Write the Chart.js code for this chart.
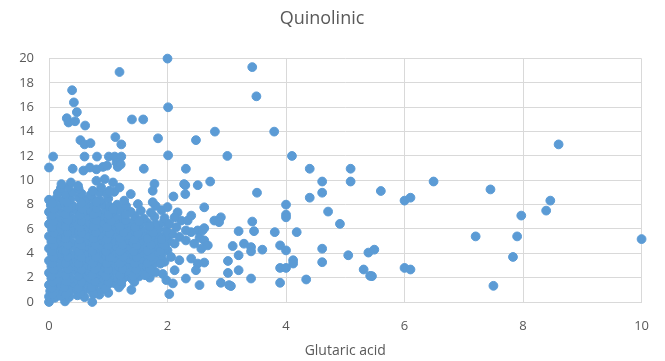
<!DOCTYPE html>
<html>
<head>
<meta charset="utf-8">
<script src="https://cdn.jsdelivr.net/npm/chart.js@4/dist/chart.umd.min.js"></script>
<style>
  html, body { margin: 0; padding: 0; background: #fff; }
  #wrap { position: relative; width: 665px; height: 361px; }
</style>
</head>
<body>
<div id="wrap"><canvas id="chart"></canvas></div>
<script>
const chartTitle = 'Quinolinic';
const xTitle = 'Glutaric acid';
const xTicks = [0, 2, 4, 6, 8, 10];
const yTicks = [0, 2, 4, 6, 8, 10, 12, 14, 16, 18, 20];

// dense group near the origin, [glutaric, quinolinic]
const clusterPoints = [
  [0.0,0.0],[0.27,0.05],[0.73,0.0],
  [0.0,0.45],[0.1,0.35],[0.2,0.5],[0.34,0.4],[0.48,0.55],[0.6,0.4],[0.85,0.6],[1.0,0.75],
  [0.02,0.9],[0.13,1.0],[0.24,0.85],[0.36,0.95],[0.47,1.05],[0.58,0.9],[0.7,1.0],[0.8,0.85],[0.92,1.1],[1.39,1.0],
  [0.0,1.4],[0.1,1.5],[0.2,1.35],[0.31,1.45],[0.42,1.55],[0.53,1.4],[0.64,1.5],[0.76,1.35],[0.88,1.5],[0.99,1.4],[1.1,1.55],[1.22,1.45],
  [0.04,1.95],[0.15,1.85],[0.26,2.0],[0.37,1.9],[0.48,1.8],[0.59,2.0],[0.7,1.9],[0.82,2.05],[0.93,1.85],[1.05,2.0],[1.16,1.9],[1.28,2.05],[1.4,1.9],[1.52,2.1],[1.7,2.0],
  [0.0,2.4],[0.1,2.5],[0.22,2.35],[0.33,2.45],[0.44,2.55],[0.56,2.4],[0.67,2.5],[0.78,2.35],[0.9,2.5],[1.0,2.4],[1.12,2.55],[1.24,2.4],[1.35,2.5],[1.47,2.35],[1.58,2.5],[1.8,2.45],[1.92,2.3],
  [0.04,2.95],[0.15,2.85],[0.27,3.0],[0.38,2.9],[0.5,2.8],[0.61,3.0],[0.72,2.9],[0.84,3.05],[0.95,2.85],[1.06,3.0],[1.18,2.9],[1.3,3.05],[1.42,2.85],[1.53,3.0],[1.65,2.9],[1.76,3.1],
  [0.0,3.4],[0.11,3.5],[0.22,3.35],[0.34,3.45],[0.45,3.55],[0.56,3.4],[0.68,3.5],[0.79,3.35],[0.9,3.5],[1.02,3.4],[1.13,3.55],[1.25,3.4],[1.36,3.5],[1.48,3.35],[1.6,3.5],[1.72,3.4],[1.84,3.55],[1.95,3.3],
  [0.05,3.95],[0.16,3.85],[0.28,4.0],[0.4,3.9],[0.5,3.8],[0.62,4.0],[0.74,3.9],[0.85,4.05],[0.96,3.85],[1.08,4.0],[1.2,3.9],[1.31,4.05],[1.42,3.85],[1.54,4.0],[1.66,3.9],[1.78,4.05],[1.9,3.85],[2.0,4.25],
  [0.0,4.4],[0.1,4.5],[0.22,4.35],[0.33,4.45],[0.45,4.55],[0.56,4.4],[0.67,4.5],[0.8,4.35],[0.9,4.5],[1.02,4.4],[1.14,4.55],[1.25,4.4],[1.37,4.5],[1.5,4.35],[1.6,4.5],[1.72,4.4],[1.84,4.55],[1.96,4.45],
  [0.04,4.95],[0.16,4.85],[0.27,5.0],[0.38,4.9],[0.5,4.8],[0.62,5.0],[0.73,4.9],[0.84,5.05],[0.96,4.85],[1.08,5.0],[1.2,4.9],[1.3,5.05],[1.42,4.85],[1.55,5.0],[1.66,4.9],[1.78,5.05],[1.9,4.85],[2.02,5.0],[2.12,4.8],
  [0.0,5.4],[0.11,5.5],[0.22,5.35],[0.34,5.45],[0.45,5.55],[0.57,5.4],[0.68,5.5],[0.8,5.35],[0.9,5.5],[1.02,5.4],[1.14,5.55],[1.26,5.4],[1.37,5.5],[1.48,5.35],[1.6,5.5],[1.72,5.4],[1.84,5.55],[1.96,5.4],[2.08,5.6],[2.2,5.35],
  [0.05,5.95],[0.16,5.85],[0.28,6.0],[0.4,5.9],[0.5,5.8],[0.62,6.0],[0.74,5.9],[0.86,6.05],[0.97,5.85],[1.08,6.0],[1.2,5.9],[1.32,6.05],[1.44,5.85],[1.56,6.0],[1.7,5.9],[1.85,6.05],[1.98,5.85],
  [0.0,6.4],[0.11,6.5],[0.22,6.35],[0.34,6.45],[0.45,6.55],[0.57,6.4],[0.68,6.5],[0.8,6.35],[0.92,6.5],[1.03,6.4],[1.15,6.55],[1.27,6.4],[1.4,6.5],[1.52,6.35],[1.66,6.5],[1.8,6.4],[1.93,6.55],
  [0.04,6.95],[0.16,6.85],[0.28,7.0],[0.4,6.9],[0.52,6.8],[0.63,7.0],[0.75,6.9],[0.88,7.05],[1.0,6.85],[1.12,7.0],[1.25,6.9],[1.45,7.05],[1.6,6.85],[1.78,7.0],[1.95,6.9],
  [0.0,7.4],[0.1,7.5],[0.22,7.35],[0.34,7.45],[0.46,7.55],[0.58,7.4],[0.7,7.5],[0.82,7.35],[0.95,7.5],[1.07,7.4],[1.2,7.55],[1.38,7.4],[1.55,7.5],[1.72,7.35],[1.9,7.55],
  [0.03,7.95],[0.15,7.85],[0.27,8.0],[0.4,7.9],[0.52,7.8],[0.64,8.0],[0.76,7.9],[0.9,8.05],[1.02,7.85],[1.15,8.0],[1.3,7.9],[1.5,8.05],[1.8,7.9],[2.0,7.8],
  [0.0,8.4],[0.12,8.5],[0.24,8.35],[0.36,8.45],[0.5,8.55],[0.62,8.4],[0.74,8.5],[0.86,8.35],[1.0,8.5],[1.27,8.33],[1.75,8.2],
  [0.15,8.95],[0.28,8.85],[0.4,9.0],[0.55,8.9],[0.7,8.8],[0.85,9.0],[0.97,8.9],[1.1,9.05],[1.38,8.87],
  [0.2,9.35],[0.33,9.45],[0.5,9.3],[0.74,9.14],[0.88,9.41],[1.02,9.14],[1.19,9.41],
  [0.21,9.69],[0.37,9.82],[0.49,9.55],[0.8,9.96],[0.94,10.1],[1.08,9.82]
];

// more points inside the same group, sitting between the rows above
const clusterFill = [
  [0.06,0.65],[0.29,0.65],[0.53,0.7],[0.75,0.65],
  [0.05,1.15],[0.26,1.2],[0.5,1.15],[0.72,1.2],[0.95,1.15],[1.18,1.2],
  [0.07,1.65],[0.3,1.7],[0.55,1.65],[0.78,1.7],[1.0,1.65],[1.22,1.7],[1.44,1.65],
  [0.05,2.15],[0.28,2.2],[0.5,2.15],[0.73,2.2],[0.96,2.15],[1.2,2.2],[1.42,2.15],[1.62,2.2],
  [0.08,2.65],[0.32,2.7],[0.55,2.65],[0.78,2.7],[1.0,2.65],[1.24,2.7],[1.47,2.65],[1.7,2.7],
  [0.06,3.15],[0.28,3.2],[0.5,3.15],[0.74,3.2],[0.97,3.15],[1.2,3.2],[1.44,3.15],[1.66,3.2],[1.88,3.15],
  [0.08,3.65],[0.31,3.7],[0.55,3.65],[0.79,3.7],[1.02,3.65],[1.25,3.7],[1.48,3.65],[1.72,3.7],
  [0.06,4.15],[0.28,4.2],[0.5,4.15],[0.73,4.2],[0.96,4.15],[1.2,4.2],[1.43,4.15],[1.66,4.2],[1.88,4.15],
  [0.08,4.65],[0.32,4.7],[0.55,4.65],[0.78,4.7],[1.0,4.65],[1.24,4.7],[1.48,4.65],[1.72,4.7],[1.95,4.65],
  [0.06,5.15],[0.28,5.2],[0.52,5.15],[0.75,5.2],[0.98,5.15],[1.2,5.2],[1.44,5.15],[1.66,5.2],[1.9,5.15],
  [0.08,5.65],[0.31,5.7],[0.55,5.65],[0.79,5.7],[1.02,5.65],[1.26,5.7],[1.5,5.65],[1.76,5.7],
  [0.06,6.15],[0.28,6.2],[0.52,6.15],[0.75,6.2],[0.98,6.15],[1.2,6.2],[1.45,6.15],[1.7,6.2],
  [0.08,6.65],[0.32,6.7],[0.55,6.65],[0.8,6.7],[1.05,6.65],[1.3,6.7],[1.52,6.65],
  [0.06,7.15],[0.28,7.2],[0.52,7.15],[0.76,7.2],[1.0,7.15],[1.3,7.2],
  [0.08,7.65],[0.32,7.7],[0.56,7.65],[0.8,7.7],[1.08,7.65],
  [0.06,8.15],[0.3,8.2],[0.55,8.15],[0.8,8.2]
];

// the scattered points further out
const spreadPoints = [
  [2.0,20.0],[1.19,18.9],[0.39,17.4],[0.42,16.4],[0.47,15.6],[0.3,15.1],[0.33,14.75],[0.44,14.85],[0.61,14.5],
  [1.4,15.0],[1.59,15.0],[2.01,16.0],[1.12,13.55],[1.22,12.95],[1.84,13.45],[0.53,13.3],[0.6,12.95],[0.7,13.05],
  [3.43,19.3],[3.5,16.9],[2.48,13.3],[2.8,14.0],[3.8,14.0],[2.01,12.05],[3.01,12.0],[4.1,12.0],
  [0.0,11.05],[0.07,11.95],[0.4,10.95],[0.6,11.95],[0.81,11.95],[1.01,11.95],[1.11,11.95],[1.22,11.95],
  [1.6,10.95],[2.31,10.95],[0.58,10.8],[0.69,11.05],[0.8,10.9],[0.91,11.1],[0.98,11.2],[1.16,11.1],[1.14,11.45],[1.21,11.3],
  [4.4,10.95],[5.09,10.95],[4.61,9.9],[5.09,9.9],[2.72,9.9],[3.51,8.98],[4.4,8.57],[4.61,8.98],[5.6,9.12],
  [6.0,8.33],[6.1,8.57],[4.0,8.0],[4.0,7.18],[4.0,6.96],[4.71,7.43],[4.91,6.42],[2.62,7.78],[2.79,6.69],[2.9,6.96],[2.87,6.56],
  [3.43,6.61],[3.46,5.82],[3.2,5.82],[3.81,5.74],[4.18,5.74],[2.62,6.07],[3.1,4.6],[3.29,4.79],[3.41,4.51],[3.41,4.16],
  [3.2,3.84],[3.6,4.3],[3.9,4.65],[4.0,4.24],[4.61,4.38],[5.05,3.84],[5.39,4.06],[5.49,4.3],[3.02,3.37],[2.62,3.24],
  [3.9,2.8],[4.0,2.8],[4.12,3.43],[4.12,3.16],[4.61,3.27],[3.2,2.61],[3.02,2.39],[5.31,2.67],[5.42,2.15],[5.45,2.12],
  [6.0,2.8],[6.1,2.67],[3.41,1.93],[2.9,1.58],[3.04,1.39],[3.07,1.31],[3.9,1.58],[4.34,1.85],[2.54,1.39],
  [8.6,12.95],[6.49,9.9],[7.45,9.25],[8.46,8.33],[8.39,7.51],[7.97,7.1],[7.2,5.39],[7.9,5.39],[10.0,5.17],[7.83,3.7],[7.5,1.33],
  [1.78,9.7],[2.3,9.6],[2.51,9.6],[2.3,8.87],[2.1,8.67],[2.51,5.88],[1.75,9.14],[2.28,9.69],
  [2.31,5.06],[2.4,5.74],[2.54,5.28],[2.59,5.88],[2.62,5.06],[2.68,4.65],[2.57,4.38],[2.45,4.79],[2.31,5.88],
  [2.17,7.37],[2.23,6.69],[2.12,6.96],[2.03,6.42],[2.15,6.15],[2.34,6.69],[2.4,7.1],
  [2.4,3.57],[2.51,3.16],[2.48,2.61],[2.31,1.93],[2.06,3.7],[2.2,3.43],[2.12,2.61],[1.98,1.8],[2.09,1.53],[2.03,0.65]
];

const textColor = '#595959';
const gridColor = '#d9d9d9';
const markColor = '#5b9bd5';

new Chart(document.getElementById('chart'), {
  type: 'scatter',
  data: {
    datasets: [{
      data: clusterPoints.concat(clusterFill, spreadPoints).map(([x, y]) => ({ x, y })),
      backgroundColor: markColor,
      borderColor: markColor,
      pointBackgroundColor: markColor,
      pointBorderColor: markColor,
      pointBorderWidth: 1,
      pointRadius: 4.4,
      pointHoverRadius: 4.4,
      clip: false
    }]
  },
  options: {
    responsive: true,
    maintainAspectRatio: false,
    animation: false,
    layout: { padding: { left: 0, right: 21, top: 0, bottom: 0 } },
    plugins: {
      legend: { display: false },
      tooltip: { enabled: false },
      title: {
        display: true,
        text: chartTitle,
        color: textColor,
        font: { family: 'Open Sans', size: 18, weight: 'normal' },
        padding: { top: 8, bottom: 29 }
      }
    },
    scales: {
      x: {
        type: 'linear',
        min: 0,
        max: 10,
        afterBuildTicks: s => { s.ticks = xTicks.map(v => ({ value: v })); },
        afterFit: s => { s.height = 59; },
        grid: { color: gridColor, drawTicks: false },
        border: { color: gridColor },
        ticks: { color: textColor, padding: 16, font: { family: 'Open Sans', size: 13 } },
        title: {
          display: true,
          text: xTitle,
          color: textColor,
          font: { family: 'Open Sans', size: 14 },
          padding: { top: 4, bottom: 2 }
        }
      },
      y: {
        type: 'linear',
        min: 0,
        max: 20,
        afterBuildTicks: s => { s.ticks = yTicks.map(v => ({ value: v })); },
        afterFit: s => { s.width = 49; },
        grid: { color: gridColor, drawTicks: false },
        border: { display: false },
        ticks: { color: textColor, padding: 15, font: { family: 'Open Sans', size: 13 } }
      }
    }
  }
});
</script>
</body>
</html>
